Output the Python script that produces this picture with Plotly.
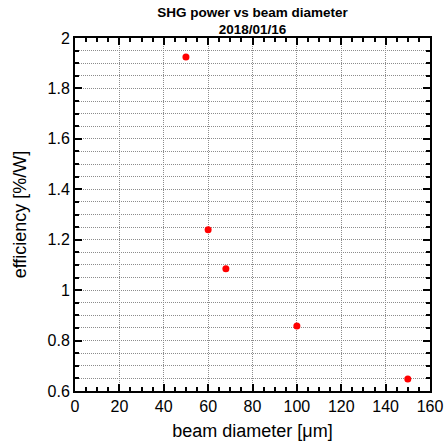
import plotly.graph_objects as go

beam_diameter = [50, 60, 68, 100, 150]
efficiency = [1.925, 1.24, 1.085, 0.858, 0.648]

x_ticks = [0, 20, 40, 60, 80, 100, 120, 140, 160]
y_ticks = [0.6, 0.8, 1.0, 1.2, 1.4, 1.6, 1.8, 2.0]
y_tick_labels = ["0.6", "0.8", "1", "1.2", "1.4", "1.6", "1.8", "2"]

font_family = "Liberation Sans, Arial, sans-serif"
grid_color = "#8c8c8c"
grid_dash = "1px,1px"

W, H = 445, 444

fig = go.Figure()
fig.add_trace(go.Scatter(
    x=beam_diameter, y=efficiency, mode="markers",
    marker=dict(color="#ff0000", size=7, line=dict(width=0)),
    showlegend=False,
))

fig.update_layout(
    width=W, height=H,
    margin=dict(l=75, r=15, t=38, b=53, autoexpand=False),
    paper_bgcolor="white", plot_bgcolor="white",
    font=dict(family=font_family, color="black"),
    title=dict(
        text="<b>SHG power vs beam diameter<br>2018/01/16</b>",
        font=dict(size=13.5, family=font_family, color="black"),
        x=0.5, xanchor="center", xref="paper",
        y=1 - 16.5 / H, yanchor="top", yref="container",
    ),
)

fig.update_xaxes(
    range=[0, 160], tickvals=x_ticks, ticktext=[str(v) for v in x_ticks],
    ticks="inside", ticklen=7, tickwidth=1.5, tickcolor="black",
    showline=True, linecolor="black", linewidth=2, mirror="allticks",
    showgrid=True, gridcolor=grid_color, gridwidth=1, griddash=grid_dash,
    zeroline=False, automargin=False,
    tickfont=dict(size=16, family=font_family),
    title=dict(text="beam diameter [μm]", font=dict(size=18, family=font_family), standoff=10),
    minor=dict(dtick=5, tick0=0, ticks="inside", ticklen=4, tickcolor="black", showgrid=False),
)
fig.update_yaxes(
    range=[0.6, 2.0], tickvals=y_ticks, ticktext=y_tick_labels,
    ticks="inside", ticklen=7, tickwidth=1.5, tickcolor="black",
    showline=True, linecolor="black", linewidth=2, mirror="allticks",
    showgrid=True, gridcolor=grid_color, gridwidth=1, griddash=grid_dash,
    zeroline=False, automargin=False,
    tickfont=dict(size=16, family=font_family),
    title=dict(text="efficiency [%/W]", font=dict(size=18, family=font_family), standoff=16),
    minor=dict(dtick=0.05, tick0=0.6, ticks="inside", ticklen=4, tickcolor="black",
               showgrid=True, gridcolor=grid_color, gridwidth=1, griddash=grid_dash),
)

fig.write_html(
    "out.html",
    config={"displayModeBar": False},
    post_script="document.body.style.margin='0';document.body.style.overflow='hidden';",
)
